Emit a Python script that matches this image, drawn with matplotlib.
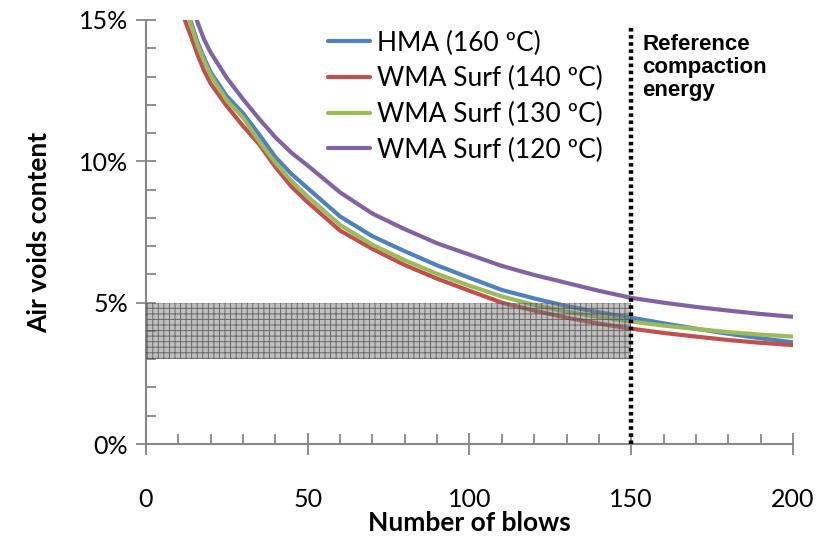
import matplotlib as mpl
import matplotlib.pyplot as plt
from matplotlib.ticker import MultipleLocator, PercentFormatter

# Data (air voids in %)
blows = [8, 10, 12, 14, 16, 18, 20, 25, 30, 35, 40, 45, 50, 60, 70, 80, 90,
         100, 110, 120, 130, 140, 150, 160, 170, 180, 190, 200]
hma_160 = [17.6, 16.5, 15.6, 14.9, 14.2, 13.65, 13.15, 12.3, 11.7, 10.95, 10.15, 9.55, 9.05, 8.05,
           7.35, 6.82, 6.32, 5.88, 5.45, 5.15, 4.88, 4.66, 4.47, 4.27, 4.08, 3.9, 3.74, 3.6]
wma_140 = [17.2, 16.0, 15.0, 14.4, 13.75, 13.2, 12.75, 11.95, 11.25, 10.6, 9.8, 9.1, 8.55, 7.55,
           6.9, 6.33, 5.85, 5.42, 5.0, 4.72, 4.47, 4.26, 4.08, 3.93, 3.8, 3.68, 3.58, 3.5]
wma_130 = [17.5, 16.4, 15.5, 14.8, 14.1, 13.55, 13.05, 12.15, 11.55, 10.7, 9.95, 9.3, 8.75, 7.75,
           7.05, 6.5, 6.02, 5.6, 5.22, 4.92, 4.68, 4.5, 4.33, 4.19, 4.07, 3.96, 3.87, 3.8]
wma_120 = [19.0, 17.8, 16.6, 15.6, 14.9, 14.3, 13.85, 12.95, 12.2, 11.5, 10.85, 10.3, 9.85, 8.9,
           8.15, 7.6, 7.1, 6.7, 6.3, 5.98, 5.7, 5.42, 5.17, 5.0, 4.85, 4.72, 4.6, 4.5]
labels = ['HMA (160 ºC)', 'WMA Surf (140 ºC)', 'WMA Surf (130 ºC)', 'WMA Surf (120 ºC)']
colors = ['#4F81BD', '#C0504D', '#9BBB59', '#8064A2']

band_x = [0, 150]
band_low, band_high = 3, 5
ref_blows = 150

mpl.rcParams['font.family'] = 'Lato'
mpl.rcParams['hatch.linewidth'] = 0.7

fig = plt.figure(figsize=(8.27, 5.36), dpi=100)
ax = fig.add_axes([0.1765, 0.1716, 0.7824, 0.7911])

for ys, lab, c in zip([hma_160, wma_140, wma_130, wma_120], labels, colors):
    ax.plot(blows, ys, color=c, lw=3, label=lab, solid_capstyle='round')

# target air voids band
ax.fill_between(band_x, band_low, band_high, facecolor=(0.5, 0.5, 0.5, 0.5),
                edgecolor=(0.3, 0.3, 0.3, 0.75), hatch='+++', lw=0, zorder=3)

# reference compaction energy
ax.plot([ref_blows, ref_blows], [0, 14.8], color='black', lw=3.2, ls=(0, (0.8, 0.8)),
        clip_on=False, zorder=4)
ax.text(153.5, 14.5, 'Reference\ncompaction\nenergy', family='Liberation Sans',
        fontweight='bold', fontsize=16, va='top', ha='left', linespacing=1.12)

ax.set_xlim(0, 200)
ax.set_ylim(0, 15)
ax.xaxis.set_major_locator(MultipleLocator(50))
ax.xaxis.set_minor_locator(MultipleLocator(10))
ax.yaxis.set_major_locator(MultipleLocator(5))
ax.yaxis.set_minor_locator(MultipleLocator(1))
ax.yaxis.set_major_formatter(PercentFormatter(decimals=0))

for s in ['top', 'right']:
    ax.spines[s].set_visible(False)
for s in ['left', 'bottom']:
    ax.spines[s].set_color('#868686')
    ax.spines[s].set_linewidth(1.5)

ax.tick_params(axis='x', which='major', direction='inout', length=16, width=1.3,
               color='#868686', labelsize=18, pad=24)
ax.tick_params(axis='y', which='major', direction='inout', length=14, width=1.3,
               color='#868686', labelsize=18, pad=6)
ax.tick_params(which='minor', direction='in', length=7, width=1.3, color='#868686')

ax.set_xlabel('Number of blows', fontsize=19, fontweight='bold', labelpad=0)
ax.set_ylabel('Air voids content', fontsize=19, fontweight='bold', labelpad=20)

ax.legend(loc='upper left', bbox_to_anchor=(0.265, 1.0), frameon=False, fontsize=19,
          handlelength=1.6, handletextpad=0.25, labelspacing=0.4, borderaxespad=0)

plt.savefig('out.png', dpi=100)
plt.close(fig)
